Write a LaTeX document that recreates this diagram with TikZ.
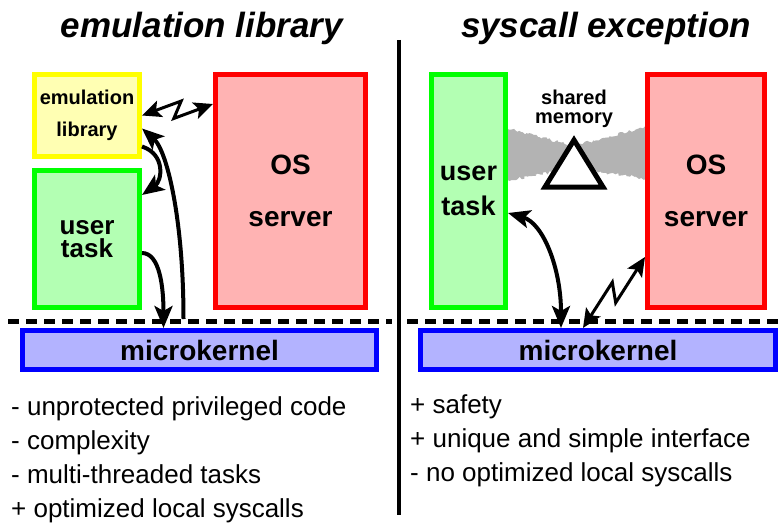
\documentclass[tikz,border=0pt]{standalone}
\usepackage{fontspec}
\setmainfont{Liberation Sans}
\usepackage{tikz}
\usetikzlibrary{calc,arrows.meta,decorations.pathmorphing}
\definecolor{libfill}{RGB}{255,255,179}
\definecolor{libline}{RGB}{255,255,0}
\definecolor{taskfill}{RGB}{179,255,179}
\definecolor{taskline}{RGB}{0,255,0}
\definecolor{srvfill}{RGB}{255,179,179}
\definecolor{srvline}{RGB}{255,0,0}
\definecolor{kernfill}{RGB}{179,179,255}
\definecolor{kernline}{RGB}{0,0,255}
\definecolor{shmgray}{RGB}{179,179,179}

\begin{document}
\begin{tikzpicture}[x=1pt,y=-1pt,line join=miter]
	\tikzstyle{box}=[draw,line width=5pt,inner sep=0pt,align=center];
	\tikzstyle{lib}=[box,draw=libline,fill=libfill,font=\fontsize{20}{32}\selectfont\bfseries];
	\tikzstyle{task}=[box,draw=taskline,fill=taskfill];
	\tikzstyle{srv}=[box,draw=srvline,fill=srvfill,font=\fontsize{28}{52}\selectfont\bfseries];
	\tikzstyle{kern}=[box,draw=kernline,fill=kernfill,minimum height=39pt,font=\fontsize{28}{34}\selectfont\bfseries];
	\tikzstyle{title}=[anchor=base,inner sep=0pt,font=\fontsize{35}{40}\selectfont\bfseries\itshape];
	\tikzstyle{note}=[anchor=base west,inner sep=0pt,font=\fontsize{26}{30}\selectfont];
	\tikzstyle{sep}=[line width=5pt,dash pattern=on 11pt off 7pt];
	\tikzstyle{arr}=[line width=4pt,-{Stealth[length=22pt,width=18pt,inset=5pt]}];
	\tikzstyle{arrs}=[line width=4pt,{Stealth[length=22pt,width=18pt,inset=5pt]}-{Stealth[length=22pt,width=18pt,inset=5pt]}];
	\tikzstyle{zap}=[line width=3pt,{Stealth[length=19pt,width=17pt,inset=4pt]}-{Stealth[length=19pt,width=17pt,inset=4pt]}];
	\useasboundingbox (0,0) rectangle (779,524);

	\node[title] (ltitle) at (202,38) {emulation library};
	\node[title] (rtitle) at (606,38) {syscall exception};
	\draw[line width=4pt] (399,40) -- (399,515);

	% shared memory band behind the boxes
	\pgfmathsetseed{7}
	\fill[shmgray,decorate,decoration={random steps,segment length=2pt,amplitude=1.5pt}]
		(505,128) -- (574,146) -- (648,126) -- (648,179) -- (574,168) -- (505,181) -- cycle;
	\draw[line width=5pt,fill=white] (574,140) -- (603,187) -- (545,187) -- cycle;
	\node[font=\fontsize{20}{19}\selectfont\bfseries,align=center] (shm) at (574,109) {shared\\memory};

	\node[lib,minimum width=105pt,minimum height=82pt] (lib) at (87,115.5) {emulation\\library};
	\node[task,minimum width=105pt,minimum height=137pt,font=\fontsize{26}{23}\selectfont\bfseries] (task) at (87,239) {user\\task};
	\node[srv,minimum width=150pt,minimum height=233pt] (os) at (290.5,191) {OS\\server};
	\node[kern,minimum width=354pt] (mk) at (199.5,350) {microkernel};

	\node[task,minimum width=74pt,minimum height=233pt,font=\fontsize{27}{35}\selectfont\bfseries] (task2) at (468.5,191) {user\\task};
	\node[srv,minimum width=117pt,minimum height=233pt] (os2) at (706,191) {OS\\server};
	\node[kern,minimum width=355pt] (mk2) at (598,350) {microkernel};

	\draw[sep] (8,321) -- (392,321);
	\draw[sep] (407,321) -- (779,321);

	\coordinate (za) at (lib.east);
	\coordinate (zb) at ([yshift=-32pt]os.north west);
	\coordinate (zc) at ([yshift=-66pt]os2.west);
	\coordinate (zd) at ([xshift=-15pt]mk2.north);

	\draw[zap] (za) -- ($(za)!.57!(zb)!8pt!90:(zb)$) -- ($(za)!.43!(zb)!8pt!-90:(zb)$) -- (zb);
	\draw[arr] ([yshift=-31pt]lib.east) .. controls +(24,8) and +(20,-14) .. ([yshift=44pt]task.east);
	\draw[arr] ([xshift=-16pt,yshift=9pt]mk.north) .. controls +(0,-100) and +(25,22) .. ([yshift=-13pt]lib.east);
	\draw[arr] ([yshift=-14pt]task.east) .. controls +(18,0) and +(0,-40) .. ([xshift=-36pt]mk.north);

	\draw[arrs] ([yshift=-22pt]task2.east) .. controls +(35,10) and +(0,-60) .. ([xshift=-37pt]mk2.north);
	\draw[zap] (zc) -- ($(zc)!.57!(zd)!8pt!90:(zd)$) -- ($(zc)!.43!(zd)!8pt!-90:(zd)$) -- (zd);

	\node[note] (con1) at (11,415) {- unprotected privileged code};
	\node[note] (con2) at (11,449) {- complexity};
	\node[note] (con3) at (11,483) {- multi-threaded tasks};
	\node[note] (pro1) at (11,517) {+ optimized local syscalls};
	\node[note] (pro2) at (410,413) {+ safety};
	\node[note] (pro3) at (410,447) {+ unique and simple interface};
	\node[note] (con4) at (410,481) {- no optimized local syscalls};
\end{tikzpicture}
\end{document}
